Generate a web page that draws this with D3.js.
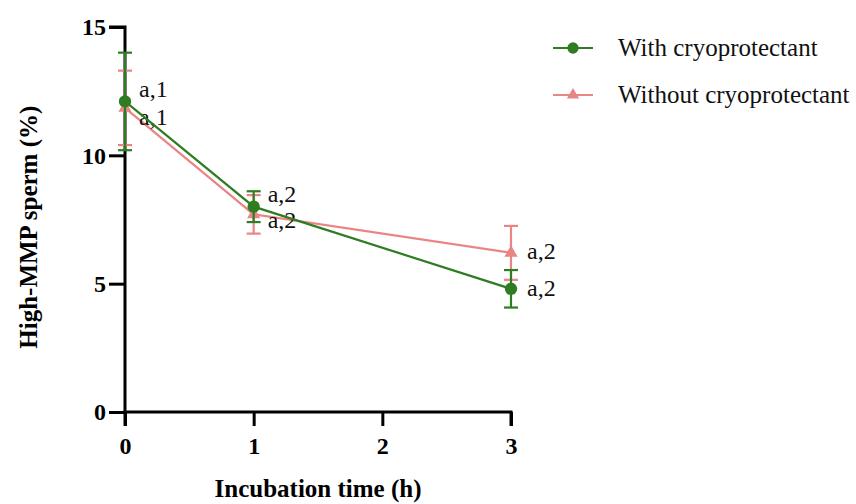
<!DOCTYPE html>
<html><head><meta charset="utf-8">
<script src="https://cdn.jsdelivr.net/npm/d3@7"></script>
<style>body{margin:0;background:#fff}svg{display:block}</style>
</head><body>
<script>
const times = [0, 1, 3];
const xTicks = [0, 1, 2, 3];
const yTicks = [0, 5, 10, 15];
const withMean = [12.1, 8.0, 4.8];
const withErr = [1.9, 0.6, 0.73];
const withoutMean = [11.85, 7.7, 6.2];
const withoutErr = [1.45, 0.75, 1.05];
const withLabels = ["a,1", "a,2", "a,2"];
const withoutLabels = ["a,1", "a,2", "a,2"];
const seriesNames = ["With cryoprotectant", "Without cryoprotectant"];

// label placement offsets (pixels, styling only)
const withLabelDy = [-4, -5, 7];
const withoutLabelDy = [17, 14, 6];

const W = 856, H = 504;
const svg = d3.select("body").append("svg").attr("width", W).attr("height", H);
const x = d3.scaleLinear().domain([0, 3]).range([125, 511]);
const y = d3.scaleLinear().domain([0, 15]).range([412, 27]);
const serif = "'Liberation Serif','Times New Roman',serif";
const green = "#2e7d22", red = "#e98585";

const xAxis = svg.append("g").attr("transform", `translate(0,${y(0)})`)
  .call(d3.axisBottom(x).tickValues(xTicks).tickFormat(d3.format("d")).tickSize(14).tickPadding(11));
const yAxis = svg.append("g").attr("transform", `translate(${x(0)},0)`)
  .call(d3.axisLeft(y).tickValues(yTicks).tickSize(16).tickPadding(3));
[xAxis, yAxis].forEach(g => {
  g.select(".domain").attr("stroke", "#000").attr("stroke-width", 3);
  g.selectAll(".tick line").attr("stroke", "#000").attr("stroke-width", 3);
  g.selectAll(".tick text").attr("fill", "#000").style("font-family", serif)
    .style("font-size", "24px").style("font-weight", "bold");
});
xAxis.select(".domain").attr("d", `M${x(0)},14V0H${x(3)}V14`);
yAxis.select(".domain").attr("d", `M-16,${y(15)}H0V${y(0)}`);

function drawSeries(means, errs, color, shape, labels, labelDy) {
  const g = svg.append("g");
  const pts = times.map((t, i) => ({t, m: means[i], e: errs[i], l: labels[i], dy: labelDy[i]}));
  pts.forEach(p => {
    g.append("line").attr("x1", x(p.t)).attr("x2", x(p.t)).attr("y1", y(p.m - p.e)).attr("y2", y(p.m + p.e))
      .attr("stroke", color).attr("stroke-width", 2.2);
    [p.m - p.e, p.m + p.e].forEach(v => g.append("line").attr("x1", x(p.t) - 7).attr("x2", x(p.t) + 7)
      .attr("y1", y(v)).attr("y2", y(v)).attr("stroke", color).attr("stroke-width", 2.2));
  });
  g.append("path").datum(pts).attr("fill", "none").attr("stroke", color).attr("stroke-width", 2.2)
    .attr("d", d3.line().x(d => x(d.t)).y(d => y(d.m)));
  g.selectAll(".mk").data(pts).enter().append("path")
    .attr("transform", d => `translate(${x(d.t)},${y(d.m)})`)
    .attr("d", d3.symbol().type(shape).size(shape === d3.symbolCircle ? 120 : 75))
    .attr("fill", color);
  g.selectAll(".lb").data(pts).enter().append("text")
    .attr("x", d => x(d.t) + (d.t === 3 ? 16 : 14)).attr("y", d => y(d.m) + d.dy)
    .style("font-family", serif).style("font-size", "24px").attr("fill", "#111").text(d => d.l);
}
drawSeries(withoutMean, withoutErr, red, d3.symbolTriangle, withoutLabels, withoutLabelDy);
drawSeries(withMean, withErr, green, d3.symbolCircle, withLabels, withLabelDy);

// axis titles
svg.append("text").attr("x", x(1.5)).attr("y", 497).attr("text-anchor", "middle")
  .style("font-family", serif).style("font-size", "25px").style("font-weight", "bold").text("Incubation time (h)");
svg.append("text").attr("transform", `translate(37,${y(7.2)}) rotate(-90)`).attr("text-anchor", "middle")
  .style("font-family", serif).style("font-size", "25px").style("font-weight", "bold").text("High-MMP sperm (%)");

// legend
const leg = [{name: seriesNames[0], c: green, s: d3.symbolCircle, sz: 100, yy: 48},
             {name: seriesNames[1], c: red, s: d3.symbolTriangle, sz: 65, yy: 95}];
leg.forEach(l => {
  svg.append("line").attr("x1", 553).attr("x2", 593).attr("y1", l.yy).attr("y2", l.yy).attr("stroke", l.c).attr("stroke-width", 2);
  svg.append("path").attr("transform", `translate(573,${l.yy})`).attr("d", d3.symbol().type(l.s).size(l.sz)).attr("fill", l.c);
  svg.append("text").attr("x", 618).attr("y", l.yy + 8).style("font-family", serif).style("font-size", "25px")
    .attr("fill", "#111").text(l.name);
});
</script>
</body></html>
